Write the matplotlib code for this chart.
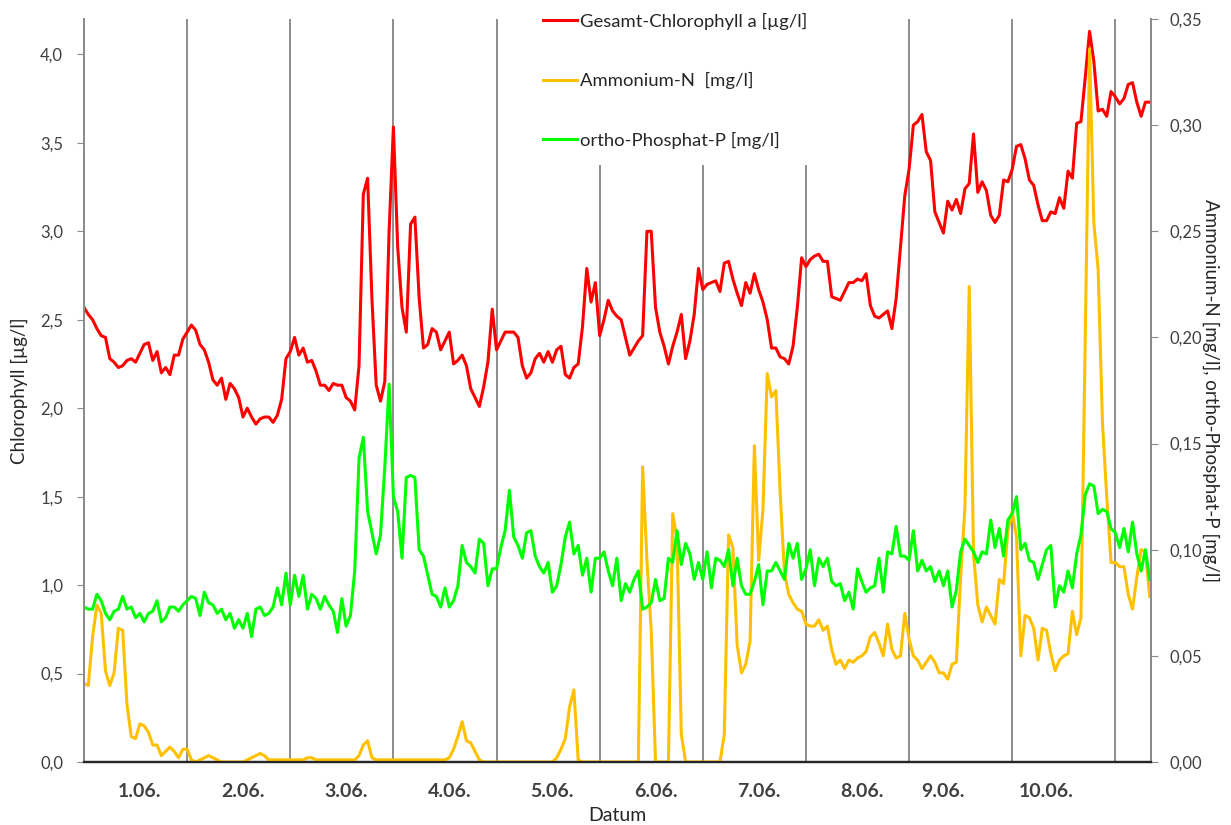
import matplotlib.pyplot as plt
from matplotlib.lines import Line2D
from matplotlib.ticker import FuncFormatter, MultipleLocator
import numpy as np

plt.rcParams['font.family'] = ['Lato', 'DejaVu Sans']

# hourly values from 1.06. 00:00 on
chl = [  # Gesamt-Chlorophyll a, µg/l
    2.57, 2.53, 2.50, 2.45, 2.41, 2.40, 2.28, 2.26, 2.23, 2.24, 2.27, 2.28, 2.26, 2.31, 2.36, 2.37, 2.27, 2.32, 2.20, 2.23, 2.19, 2.30, 2.30, 2.39,
    2.43, 2.47, 2.44, 2.36, 2.33, 2.26, 2.16, 2.13, 2.17, 2.05, 2.14, 2.11, 2.06, 1.95, 2.00, 1.95, 1.91, 1.94, 1.95, 1.95, 1.92, 1.96, 2.05, 2.28,
    2.32, 2.40, 2.30, 2.34, 2.26, 2.27, 2.21, 2.13, 2.13, 2.10, 2.14, 2.13, 2.13, 2.06, 2.04, 1.99, 2.24, 3.21, 3.30, 2.62, 2.13, 2.04, 2.15, 3.00,
    3.59, 2.91, 2.57, 2.43, 3.04, 3.08, 2.62, 2.34, 2.36, 2.45, 2.43, 2.33, 2.38, 2.43, 2.25, 2.27, 2.30, 2.24, 2.11, 2.06, 2.01, 2.12, 2.26, 2.56,
    2.33, 2.38, 2.43, 2.43, 2.43, 2.40, 2.24, 2.17, 2.20, 2.28, 2.31, 2.26, 2.32, 2.26, 2.33, 2.35, 2.19, 2.17, 2.23, 2.25, 2.46, 2.79, 2.60, 2.71,
    2.41, 2.50, 2.61, 2.55, 2.52, 2.50, 2.40, 2.30, 2.34, 2.38, 2.41, 3.00, 3.00, 2.57, 2.43, 2.35, 2.25, 2.35, 2.43, 2.53, 2.28, 2.38, 2.53, 2.79,
    2.67, 2.70, 2.71, 2.72, 2.66, 2.82, 2.83, 2.73, 2.65, 2.58, 2.71, 2.65, 2.76, 2.67, 2.60, 2.50, 2.34, 2.34, 2.29, 2.28, 2.25, 2.35, 2.57, 2.85,
    2.80, 2.84, 2.86, 2.87, 2.83, 2.83, 2.63, 2.62, 2.61, 2.66, 2.71, 2.71, 2.73, 2.72, 2.76, 2.58, 2.52, 2.51, 2.53, 2.55, 2.45, 2.62, 2.91, 3.20,
    3.35, 3.60, 3.62, 3.66, 3.45, 3.40, 3.11, 3.05, 2.99, 3.17, 3.12, 3.18, 3.10, 3.24, 3.27, 3.55, 3.22, 3.28, 3.23, 3.09, 3.05, 3.09, 3.29, 3.28,
    3.35, 3.48, 3.49, 3.41, 3.29, 3.26, 3.15, 3.06, 3.06, 3.11, 3.10, 3.19, 3.13, 3.34, 3.30, 3.61, 3.62, 3.87, 4.13, 3.96, 3.68, 3.69, 3.65, 3.79,
    3.76, 3.72, 3.75, 3.83, 3.84, 3.73, 3.65, 3.73, 3.73,
]

nh4 = [  # Ammonium-N, mg/l
    0.037, 0.036, 0.059, 0.074, 0.070, 0.043, 0.036, 0.042, 0.063, 0.062, 0.027, 0.012, 0.011, 0.018, 0.017, 0.014, 0.008, 0.008, 0.003, 0.005, 0.007, 0.005, 0.002, 0.006,
    0.006, 0.001, 0.000, 0.001, 0.002, 0.003, 0.002, 0.001, 0.000, 0.000, 0.000, 0.000, 0.000, 0.000, 0.001, 0.002, 0.003, 0.004, 0.003, 0.001, 0.001, 0.001, 0.001, 0.001,
    0.001, 0.001, 0.001, 0.001, 0.002, 0.002, 0.001, 0.001, 0.001, 0.001, 0.001, 0.001, 0.001, 0.001, 0.001, 0.001, 0.003, 0.008, 0.010, 0.002, 0.001, 0.001, 0.001, 0.001,
    0.001, 0.001, 0.001, 0.001, 0.001, 0.001, 0.001, 0.001, 0.001, 0.001, 0.001, 0.001, 0.001, 0.002, 0.006, 0.012, 0.019, 0.010, 0.009, 0.005, 0.001, 0.000, 0.000, 0.000,
    0.000, 0.000, 0.000, 0.000, 0.000, 0.000, 0.000, 0.000, 0.000, 0.000, 0.000, 0.000, 0.000, 0.000, 0.002, 0.006, 0.011, 0.026, 0.034, 0.001, 0.000, 0.000, 0.000, 0.000,
    0.000, 0.000, 0.000, 0.000, 0.000, 0.000, 0.000, 0.000, 0.000, 0.000, 0.139, 0.095, 0.062, 0.000, 0.000, 0.000, 0.000, 0.117, 0.105, 0.013, 0.000, 0.000, 0.000, 0.000,
    0.000, 0.000, 0.000, 0.000, 0.000, 0.013, 0.107, 0.101, 0.055, 0.042, 0.046, 0.057, 0.149, 0.095, 0.119, 0.183, 0.172, 0.175, 0.127, 0.089, 0.079, 0.075, 0.072, 0.071,
    0.065, 0.064, 0.064, 0.067, 0.062, 0.064, 0.053, 0.046, 0.048, 0.044, 0.048, 0.047, 0.049, 0.050, 0.052, 0.059, 0.061, 0.056, 0.050, 0.065, 0.053, 0.049, 0.050, 0.070,
    0.058, 0.050, 0.048, 0.044, 0.047, 0.050, 0.047, 0.042, 0.042, 0.039, 0.046, 0.047, 0.087, 0.120, 0.224, 0.098, 0.074, 0.066, 0.073, 0.069, 0.065, 0.086, 0.084, 0.109,
    0.118, 0.106, 0.050, 0.069, 0.068, 0.063, 0.048, 0.063, 0.062, 0.051, 0.043, 0.048, 0.050, 0.051, 0.071, 0.060, 0.068, 0.200, 0.336, 0.254, 0.232, 0.160, 0.125, 0.094,
    0.094, 0.092, 0.092, 0.079, 0.072, 0.087, 0.100, 0.099, 0.078,
]

po4 = [  # ortho-Phosphat-P, mg/l
    0.073, 0.072, 0.072, 0.079, 0.076, 0.070, 0.067, 0.071, 0.072, 0.078, 0.072, 0.073, 0.068, 0.070, 0.066, 0.070, 0.071, 0.076, 0.066, 0.068, 0.073, 0.073, 0.071, 0.074,
    0.076, 0.078, 0.077, 0.069, 0.080, 0.075, 0.074, 0.070, 0.072, 0.067, 0.070, 0.063, 0.067, 0.063, 0.070, 0.059, 0.072, 0.073, 0.069, 0.070, 0.073, 0.082, 0.074, 0.089,
    0.074, 0.088, 0.078, 0.088, 0.072, 0.079, 0.077, 0.072, 0.078, 0.074, 0.071, 0.061, 0.077, 0.064, 0.069, 0.090, 0.143, 0.153, 0.118, 0.108, 0.098, 0.107, 0.139, 0.178,
    0.125, 0.118, 0.096, 0.134, 0.135, 0.134, 0.100, 0.097, 0.088, 0.079, 0.078, 0.073, 0.082, 0.073, 0.076, 0.083, 0.102, 0.094, 0.092, 0.089, 0.105, 0.103, 0.083, 0.091,
    0.091, 0.101, 0.109, 0.128, 0.106, 0.102, 0.096, 0.108, 0.109, 0.097, 0.092, 0.089, 0.094, 0.080, 0.083, 0.093, 0.106, 0.113, 0.098, 0.102, 0.088, 0.096, 0.080, 0.096,
    0.096, 0.099, 0.090, 0.083, 0.096, 0.076, 0.084, 0.080, 0.086, 0.090, 0.072, 0.073, 0.075, 0.086, 0.076, 0.077, 0.096, 0.094, 0.109, 0.093, 0.103, 0.098, 0.086, 0.094,
    0.086, 0.099, 0.082, 0.096, 0.095, 0.092, 0.100, 0.083, 0.096, 0.083, 0.079, 0.079, 0.085, 0.093, 0.074, 0.090, 0.090, 0.094, 0.090, 0.086, 0.103, 0.096, 0.103, 0.086,
    0.091, 0.100, 0.083, 0.096, 0.092, 0.096, 0.085, 0.083, 0.084, 0.076, 0.080, 0.072, 0.091, 0.085, 0.080, 0.082, 0.083, 0.096, 0.080, 0.099, 0.098, 0.111, 0.097, 0.097,
    0.095, 0.109, 0.090, 0.095, 0.090, 0.092, 0.085, 0.090, 0.083, 0.090, 0.073, 0.081, 0.099, 0.105, 0.102, 0.099, 0.094, 0.099, 0.098, 0.114, 0.101, 0.110, 0.097, 0.114,
    0.117, 0.125, 0.100, 0.103, 0.095, 0.094, 0.086, 0.093, 0.100, 0.102, 0.073, 0.083, 0.080, 0.090, 0.082, 0.098, 0.107, 0.126, 0.131, 0.130, 0.117, 0.119, 0.118, 0.110,
    0.108, 0.101, 0.110, 0.099, 0.113, 0.098, 0.090, 0.100, 0.086,
]

day_labels = ['1.06.', '2.06.', '3.06.', '4.06.', '5.06.',
              '6.06.', '7.06.', '8.06.', '9.06.', '10.06.']

labels = ['Gesamt-Chlorophyll a [µg/l]', 'Ammonium-N  [mg/l]', 'ortho-Phosphat-P [mg/l]']
colors = ['#ff0000', '#ffc000', '#00ff00']

hours = np.arange(len(chl))

W, H = 1231, 825
fig = plt.figure(figsize=(W / 100, H / 100), dpi=100)
ax = fig.add_axes([84 / W, 1 - 762 / H, (1151 - 84) / W, (762 - 19) / H])
ax2 = ax.twinx()

# day separators
for d in range(1, len(day_labels) + 1):
    ax.axvline(24 * d, color='#8c8c8c', lw=1.4, zorder=0)

ax.plot(hours, chl, color=colors[0], lw=2.2)
ax2.plot(hours, nh4, color=colors[1], lw=2.2)
ax2.plot(hours, po4, color=colors[2], lw=2.2)

ax.set_xlim(0, hours[-1] + 0.3)
ax.set_ylim(0, 4.2)
ax2.set_ylim(0, 0.35)

comma = lambda fmt: FuncFormatter(lambda v, _: format(v, fmt).replace('.', ','))
ax.yaxis.set_major_locator(MultipleLocator(0.5))
ax.yaxis.set_major_formatter(comma('.1f'))
ax2.yaxis.set_major_locator(MultipleLocator(0.05))
ax2.yaxis.set_major_formatter(comma('.2f'))

# date labels sit near midday; the last two are pulled a bit towards the morning
label_pos = np.arange(len(day_labels)) * 24 + 13.0
label_pos[-2:] -= 5
ax.set_xticks(label_pos)
ax.set_xticklabels(day_labels, fontsize=14, fontweight='bold', color='#404040')
ax.tick_params(axis='x', length=0, pad=15)
ax.tick_params(axis='y', length=5, color='#8c8c8c', labelsize=12, labelcolor='#404040', pad=10)
ax2.tick_params(axis='y', length=5, color='#8c8c8c', labelsize=12, labelcolor='#404040', pad=8)

for a in (ax, ax2):
    a.spines['top'].set_visible(False)
    a.spines['left'].set_color('#8c8c8c')
    a.spines['right'].set_color('#8c8c8c')
    a.spines['left'].set_linewidth(1.4)
    a.spines['right'].set_linewidth(1.4)
    a.spines['bottom'].set_color('#262626')
    a.spines['bottom'].set_linewidth(1.6)

ax.set_xlabel('Datum', fontsize=14, color='#262626', labelpad=5)
ax.set_ylabel('Chlorophyll [µg/l]', fontsize=13.5, color='#262626', labelpad=9)
ax2.set_ylabel('Ammonium-N [mg/l], ortho-Phosphat-P [mg/l]', fontsize=13.5,
               color='#262626', rotation=270, labelpad=13)

handles = [Line2D([], [], color=c, lw=2.2) for c in colors]
leg = ax2.legend(handles, labels, loc='upper left', bbox_to_anchor=(527 / W, 1 + 3 / H),
                 bbox_transform=fig.transFigure, fontsize=13.3, frameon=True, framealpha=1,
                 facecolor='white', edgecolor='none', fancybox=False,
                 handlelength=1.85, handletextpad=0.15, labelspacing=2.3, borderpad=0.86,
                 borderaxespad=0)
for t in leg.get_texts():
    t.set_color('#262626')

fig.savefig('out.png', dpi=100)
